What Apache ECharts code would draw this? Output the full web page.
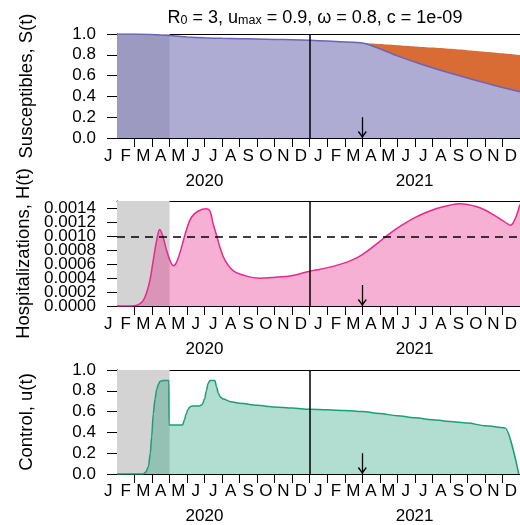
<!DOCTYPE html>
<html><head><meta charset="utf-8">
<script src="https://cdn.jsdelivr.net/npm/echarts@6/dist/echarts.min.js"></script>
<style>html,body{margin:0;padding:0;background:#fff}#c{width:520px;height:525px}</style>
</head><body><div id="c"></div>
<script>
// ---- data (x in months since 1 Jan 2020) ----
const monthLabels = ['J','F','M','A','M','J','J','A','S','O','N','D','J','F','M','A','M','J','J','A','S','O','N','D'];
const yearLabels = ['2020','2021'];

const susMonth = [1, 2, 3, 3.5, 4, 5, 6, 7, 8, 9, 10, 11, 12, 13, 14, 15, 15.5, 16, 17, 18, 19, 20, 21, 22, 23, 24];
const susValue = [1.0, 0.999, 0.995, 0.99, 0.985, 0.972, 0.963, 0.958, 0.955, 0.952, 0.948, 0.944, 0.939, 0.932, 0.924, 0.913, 0.89, 0.858, 0.79, 0.73, 0.675, 0.625, 0.577, 0.53, 0.486, 0.444];
const susNoVaccine = [1.0, 0.999, 0.995, 0.99, 0.985, 0.972, 0.963, 0.958, 0.955, 0.952, 0.948, 0.944, 0.939, 0.932, 0.924, 0.913, 0.908, 0.903, 0.892, 0.881, 0.869, 0.857, 0.844, 0.83, 0.815, 0.798];

const hospMonth = [1, 1.5, 2, 2.3, 2.5, 2.7, 2.88, 3.07, 3.26, 3.44, 3.63, 3.83, 4.02, 4.21, 4.4, 4.69, 4.97, 5.26, 5.64, 6.11, 6.3, 6.49, 6.68, 6.87, 7.16, 7.63, 8.39, 9.15, 9.91, 11.05, 12, 12.6, 13.33, 14, 14.5, 15, 15.5, 16, 16.5, 17, 17.5, 18, 18.5, 19, 19.5, 20, 20.5, 21, 21.5, 22, 22.5, 23, 23.3, 23.45, 23.6, 23.8, 24];
const hospValue = [0, 0, 0.000003, 0.00003, 0.00008, 0.0002, 0.00037, 0.00066, 0.00094, 0.0011, 0.00099, 0.0008, 0.00066, 0.00058, 0.00063, 0.00085, 0.0011, 0.00128, 0.001366, 0.0014, 0.00137, 0.00118, 0.00102, 0.00085, 0.00066, 0.00051, 0.00043, 0.0004, 0.00041, 0.00044, 0.0005, 0.00053, 0.00057, 0.00062, 0.00067, 0.00074, 0.00083, 0.00093, 0.00103, 0.00112, 0.0012, 0.00127, 0.00133, 0.00138, 0.00142, 0.00145, 0.00147, 0.00146, 0.00143, 0.00138, 0.00131, 0.00123, 0.00118, 0.00116, 0.00119, 0.0013, 0.00146];
const hospTicks = [0, 0.0002, 0.0004, 0.0006, 0.0008, 0.0010, 0.0012, 0.0014];
const hospThreshold = 0.001;

const ctrlMonth = [1, 2.5, 2.65, 2.79, 2.9, 2.98, 3.07, 3.17, 3.26, 3.36, 3.45, 3.64, 3.96, 3.97, 4.74, 4.85, 4.93, 5.05, 5.16, 5.3, 5.45, 5.7, 5.85, 6.0, 6.1, 6.2, 6.3, 6.59, 6.68, 6.78, 6.9, 7.06, 7.5, 8, 9, 10, 11, 12, 13, 14, 15, 16, 17, 18, 19, 20, 21, 22, 23.15, 23.93];
const ctrlValue = [0, 0, 0.02, 0.07, 0.2, 0.36, 0.58, 0.72, 0.81, 0.86, 0.89, 0.9, 0.9, 0.47, 0.47, 0.52, 0.57, 0.62, 0.645, 0.655, 0.655, 0.655, 0.665, 0.72, 0.8, 0.87, 0.9, 0.9, 0.84, 0.78, 0.74, 0.72, 0.695, 0.68, 0.66, 0.645, 0.635, 0.622, 0.617, 0.61, 0.6, 0.582, 0.56, 0.54, 0.522, 0.505, 0.49, 0.464, 0.443, 0];

const shadeStart = 1, shadeEnd = 4;      // shaded initial period
const yearBoundary = 12;                 // 1 Jan 2021
const arrowMonth = 15;                   // 1 Apr 2021
const xMin = 1, xMax = 24;

// ---- build ----
const tops = [34, 201, 370];
const heights = [104, 105, 104];
const FONT = 'Liberation Sans, Arial, sans-serif';
const FS = 17;
const NAME_FS = 18.5;
const monthTickValues = [];
for (let m = 2; m < xMax; m++) monthTickValues.push(m);

const grid = [], xAxis = [], yAxis = [], series = [];
const yMax = [1, 0.00151, 1];
const yNames = ['Susceptibles, S(t)', 'Hospitalizations, H(t)', 'Control, u(t)'];
const black = '#000';
const LABEL_MARGIN = 21;

for (let i = 0; i < 3; i++) {
  grid.push({left: 117, top: tops[i], width: 403, height: heights[i], containLabel: false});
  grid.push({left: 99.5, top: tops[i], width: 420.5, height: heights[i], containLabel: false});
  const g = 2 * i, gl = 2 * i + 1;
  xAxis.push({type: 'value', gridIndex: g, min: xMin, max: xMax, position: 'bottom',
    axisLine: {show: true, onZero: false, lineStyle: {color: black, width: 1}},
    axisTick: {show: true, length: 9, customValues: monthTickValues, lineStyle: {color: black, width: 1}},
    axisLabel: {show: false}, splitLine: {show: false}});
  xAxis.push({type: 'value', gridIndex: g, min: xMin, max: xMax, position: 'top',
    axisLine: {show: true, onZero: false, lineStyle: {color: black, width: 1}},
    axisTick: {show: false}, axisLabel: {show: false}, splitLine: {show: false}});
  xAxis.push({type: 'category', gridIndex: gl, data: monthLabels, position: 'bottom', offset: 0,
    axisLine: {show: false}, axisTick: {show: false},
    axisLabel: {interval: 0, margin: 10, color: black, fontSize: FS, fontFamily: FONT}});
  xAxis.push({type: 'category', gridIndex: gl, data: yearLabels, position: 'bottom', offset: 0,
    axisLine: {show: false}, axisTick: {show: false},
    axisLabel: {interval: 0, margin: 35, color: black, fontSize: FS, fontFamily: FONT}});

  const ya = {type: 'value', gridIndex: g, min: 0, max: yMax[i], position: 'left',
    axisLine: {show: true, onZero: false, lineStyle: {color: black, width: 1}},
    axisTick: {show: true, length: 10, lineStyle: {color: black, width: 1}},
    axisLabel: {margin: LABEL_MARGIN, color: black, fontSize: FS, fontFamily: FONT,
      showMinLabel: true, showMaxLabel: true, hideOverlap: false},
    splitLine: {show: false},
    name: yNames[i], nameLocation: 'middle', nameGap: 81,
    nameTextStyle: {color: black, fontSize: NAME_FS, fontFamily: FONT}};
  if (i === 1) {
    ya.axisTick.customValues = hospTicks;
    ya.axisLabel.customValues = hospTicks.filter((v, k) => k % 2 === 0);
    ya.axisLabel.formatter = v => v.toFixed(4);
  } else {
    ya.interval = 0.2;
    ya.axisLabel.formatter = v => v.toFixed(1);
  }
  yAxis.push(ya);
  yAxis.push({type: 'value', gridIndex: gl, show: false, min: 0, max: 1});
}
// second label axis for the hospitalization panel (odd ticks), avoids label thinning
yAxis.push({type: 'value', gridIndex: 2, min: 0, max: yMax[1], position: 'left', offset: 0,
  axisLine: {show: false}, axisTick: {show: false}, splitLine: {show: false},
  axisLabel: {margin: LABEL_MARGIN, color: black, fontSize: FS, fontFamily: FONT,
    customValues: hospTicks.filter((v, k) => k % 2 === 1), formatter: v => v.toFixed(4),
    showMinLabel: true, showMaxLabel: true, hideOverlap: false}});

const arrowPath = 'path://M0,1 L1.2,0 L5,5.4 L8.8,0 L10,1 L5,8 Z';

for (let i = 0; i < 3; i++) {
  const xi = 4 * i, yi = 2 * i;
  series.push({type: 'line', xAxisIndex: xi, yAxisIndex: yi, data: [], z: 1, silent: true,
    markArea: {silent: true, itemStyle: {color: '#d3d3d3', opacity: 1},
      data: [[{xAxis: shadeStart}, {xAxis: shadeEnd}]]}});
  series.push({type: 'line', xAxisIndex: xi + 2, yAxisIndex: yi + 1, data: [], silent: true});
  series.push({type: 'line', xAxisIndex: xi + 3, yAxisIndex: yi + 1, data: [], silent: true});
}
series.push({type: 'line', xAxisIndex: 4, yAxisIndex: 6, data: [], silent: true});

// panel 1: susceptibles (value first so the stack runs on y)
series.push({type: 'line', xAxisIndex: 0, yAxisIndex: 0,
  data: susMonth.map((m, k) => [susValue[k], m]), encode: {x: 1, y: 0}, stack: 'sus',
  symbol: 'none', smooth: 0.2, z: 3,
  lineStyle: {color: '#6a63b8', width: 1.5}, areaStyle: {color: 'rgba(117,112,179,0.58)', opacity: 1}});
series.push({type: 'line', xAxisIndex: 0, yAxisIndex: 0,
  data: susMonth.map((m, k) => [susNoVaccine[k] - susValue[k], m]), encode: {x: 1, y: 0}, stack: 'sus',
  symbol: 'none', smooth: 0.2, z: 2,
  lineStyle: {width: 0, opacity: 0}, areaStyle: {color: '#d96c35', opacity: 1}});
// panel 2: hospitalizations
series.push({type: 'line', xAxisIndex: 4, yAxisIndex: 2, data: hospMonth.map((m, k) => [m, hospValue[k]]),
  symbol: 'none', smooth: 0.4, z: 3,
  lineStyle: {color: '#e7298a', width: 1.5}, areaStyle: {color: 'rgba(231,41,138,0.37)', opacity: 1}});
// panel 3: control
series.push({type: 'line', xAxisIndex: 8, yAxisIndex: 4, data: ctrlMonth.map((m, k) => [m, ctrlValue[k]]),
  symbol: 'none', smooth: 0.3, smoothMonotone: 'x', z: 3,
  lineStyle: {color: '#1b9e77', width: 1.5}, areaStyle: {color: 'rgba(27,158,119,0.34)', opacity: 1}});

for (let i = 0; i < 3; i++) {
  const xi = 4 * i, yi = 2 * i;
  const arrowTop = yMax[i] * 0.2;
  const ml = [
    {xAxis: yearBoundary, lineStyle: {color: black, width: 1.5, type: 'solid'}},
    [{coord: [arrowMonth, arrowTop]}, {coord: [arrowMonth, 0]}]
  ];
  if (i === 1) ml.push({yAxis: hospThreshold, lineStyle: {color: black, width: 1.5, type: [8, 6]}});
  series.push({type: 'line', xAxisIndex: xi, yAxisIndex: yi, data: [], z: 10, silent: true,
    markLine: {silent: true, symbol: 'none', precision: 8, animation: false, label: {show: false},
      lineStyle: {color: black, width: 1.3, type: 'solid'}, data: ml},
    markPoint: {silent: true, animation: false, label: {show: false},
      data: [{coord: [arrowMonth, 0], symbol: arrowPath, symbolSize: [9, 7], symbolOffset: [0, '-50%'],
        itemStyle: {color: black}}]}});
}

const chart = echarts.init(document.getElementById('c'), null, {renderer: 'canvas'});
chart.setOption({
  animation: false,
  backgroundColor: '#fff',
  grid, xAxis, yAxis, series,
  graphic: [{type: 'text', x: 315, y: 18, silent: true,
    style: {text: 'R{s|0} = 3, u{s|max} = 0.9, ω = 0.8, c = 1e-09',
      font: '18px ' + FONT, fill: black, align: 'center', verticalAlign: 'middle',
      rich: {s: {fontSize: 12.5, fontFamily: FONT, fill: black, verticalAlign: 'bottom', lineHeight: 12}}}}]
});
</script></body></html>
